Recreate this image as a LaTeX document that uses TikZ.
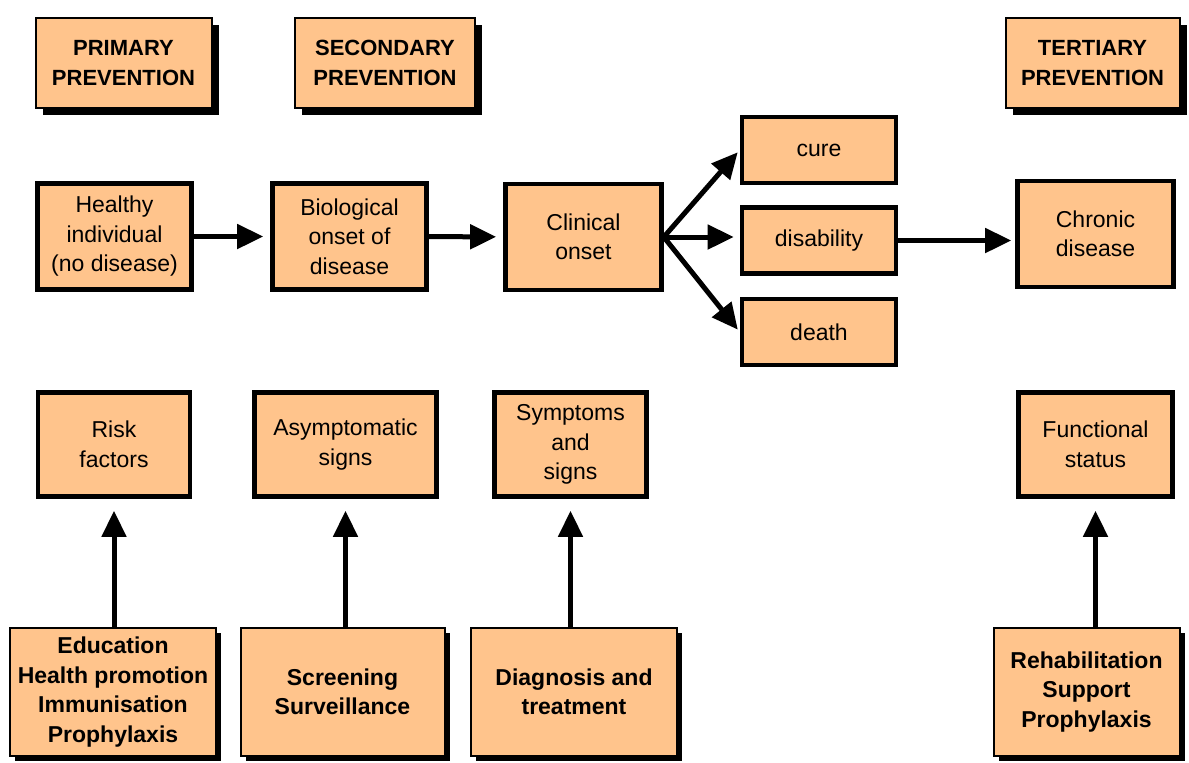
\documentclass[tikz,border=0pt]{standalone}
\usepackage{fontspec}
\setmainfont{Liberation Sans}
\usetikzlibrary{arrows.meta,shadows}

\definecolor{peach}{RGB}{255,196,140}

\tikzset{
  txt/.style={font=\fontsize{11.5}{14.75}\selectfont, align=center, inner sep=0pt},
  headbox/.style={txt, draw=black, line width=1pt, fill=peach, font=\bfseries\fontsize{11}{15}\selectfont,
    drop shadow={shadow xshift=3.5pt, shadow yshift=-3.5pt, fill=black, opacity=1}},
  stagebox/.style={txt, draw=black, line width=2.3pt, fill=peach},
  actbox/.style={txt, draw=black, line width=1pt, fill=peach, font=\bfseries\fontsize{11.5}{14.75}\selectfont,
    drop shadow={shadow xshift=2.5pt, shadow yshift=-2.5pt, fill=black, opacity=1}},
  flow/.style={line width=2.5pt, -{Triangle[length=13pt,width=12pt]}}
}

\begin{document}
\begin{tikzpicture}[x=0.5pt,y=-0.5pt]
\useasboundingbox (0,0) rectangle (1189,762);

%Headers
\node (prim) at (123.5,63) [headbox, minimum width=88pt, minimum height=45pt] {PRIMARY\\PREVENTION};
\node (sec) at (385,63) [headbox, minimum width=90pt, minimum height=45pt] {SECONDARY\\PREVENTION};
\node (ter) at (1092.5,63) [headbox, minimum width=87pt, minimum height=45pt] {TERTIARY\\PREVENTION};

%Natural history row
\node (healthy) at (114.5,236.5) [stagebox, minimum width=77pt, minimum height=53pt] {Healthy\\individual\\(no disease)};
\node (bio) at (349.5,236.5) [stagebox, minimum width=77pt, minimum height=53pt] {Biological\\onset of\\disease};
\node (clin) at (583.5,237) [stagebox, minimum width=78pt, minimum height=53pt] {Clinical\\onset};
\node (cure) at (819,150) [stagebox, minimum width=77pt, minimum height=33pt] {cure};
\node (dis) at (819,240.5) [stagebox, minimum width=77pt, minimum height=33pt] {disability};
\node (death) at (819,332) [stagebox, minimum width=77pt, minimum height=33pt] {death};
\node (chronic) at (1095.5,234) [stagebox, minimum width=78pt, minimum height=53pt] {Chronic\\disease};

%Signs row
\node (risk) at (114,444.5) [stagebox, minimum width=76pt, minimum height=52pt] {Risk\\factors};
\node (asym) at (345.5,444.5) [stagebox, minimum width=91pt, minimum height=52pt] {Asymptomatic\\signs};
\node (sympt) at (570.5,444.5) [stagebox, minimum width=76pt, minimum height=52pt] {Symptoms\\and\\signs};
\node (func) at (1095.5,444.5) [stagebox, minimum width=77pt, minimum height=52pt] {Functional\\status};

%Actions row
\node (edu) at (113,692) [actbox, minimum width=103pt, minimum height=64pt] {Education\\Health promotion\\Immunisation\\Prophylaxis};
\node (scr) at (342.5,692) [actbox, minimum width=102pt, minimum height=64pt] {Screening\\Surveillance};
\node (diag) at (574,692) [actbox, minimum width=103pt, minimum height=64pt] {Diagnosis and\\treatment};
\node (reh) at (1086.5,692) [actbox, minimum width=93pt, minimum height=64pt] {Rehabilitation\\Support\\Prophylaxis};

%Arrows
\draw [flow, shorten >=3.5pt] (healthy) -- (bio);
\draw [flow, shorten >=3.5pt] (bio) -- (clin);
\draw [flow, shorten >=1.5pt] (clin.east) -- (cure.west);
\draw [flow, shorten >=3pt] (clin.east) -- (clin.east -| dis.west);
\draw [flow, shorten >=1.5pt] (clin.east) -- (death.west);
\draw [flow, shorten >=2pt] (dis) -- (dis -| chronic.west);

\draw [flow, shorten >=6pt] (risk.south |- edu.north) -- (risk.south);
\draw [flow, shorten >=6pt] (asym.south |- scr.north) -- (asym.south);
\draw [flow, shorten >=6pt] (sympt.south |- diag.north) -- (sympt.south);
\draw [flow, shorten >=6pt] (func.south |- reh.north) -- (func.south);

\end{tikzpicture}
\end{document}
